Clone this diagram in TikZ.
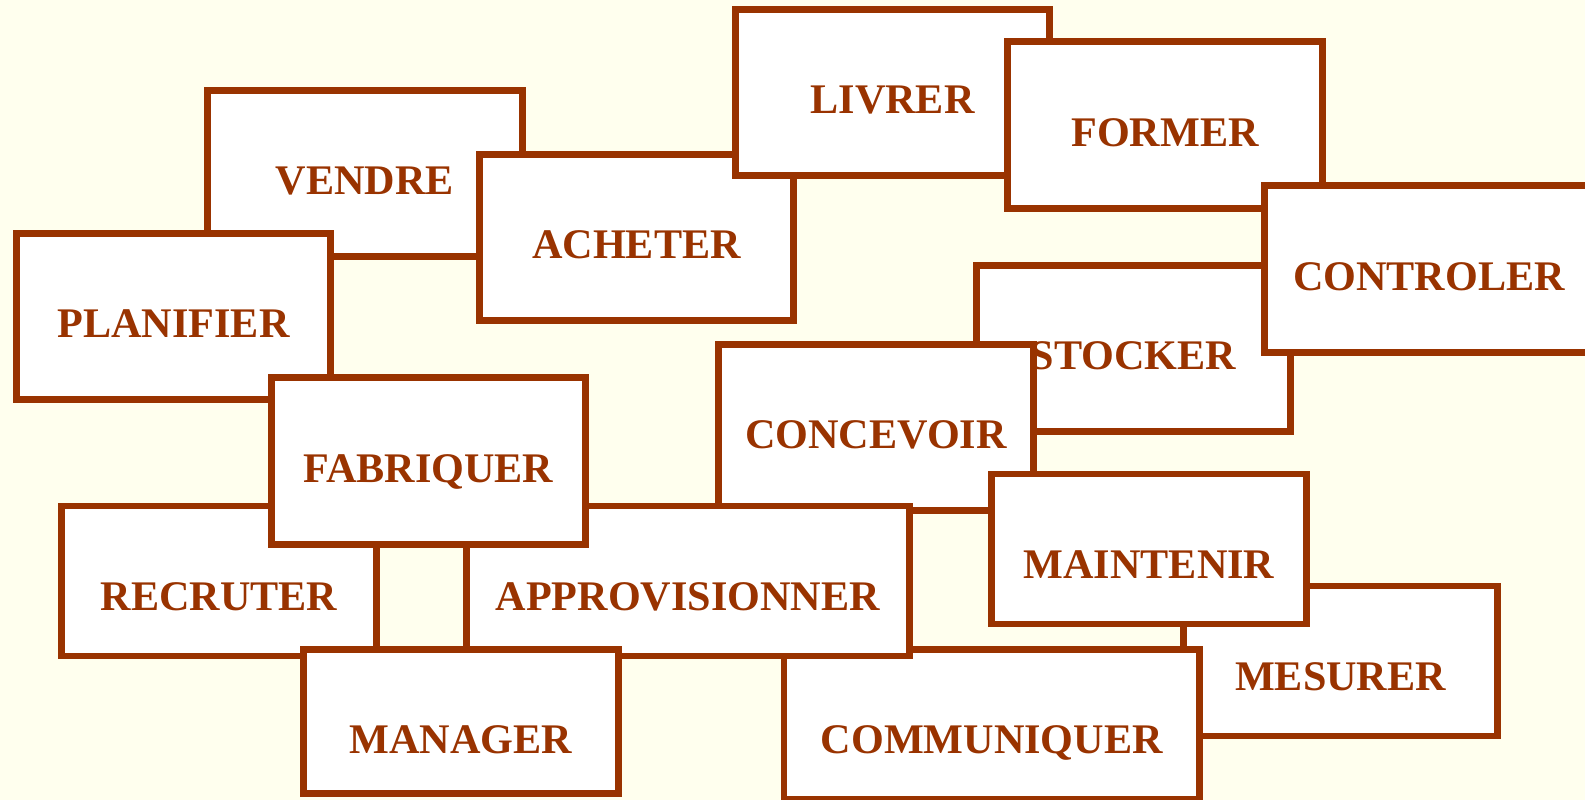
\documentclass[tikz,border=0pt]{standalone}
\usepackage{fontspec}
\setmainfont{Liberation Serif}
\usepackage{tikz}

\definecolor{brick}{HTML}{993300}
\definecolor{paper}{HTML}{FFFFEE}
\tikzset{
  act/.style={draw=brick,line width=3.8pt,fill=white,text=brick,inner sep=0pt,
    font=\bfseries\fontsize{24pt}{24pt}\selectfont,
    minimum width=6.29cm,minimum height=3.33cm,text height=0.86cm,text depth=0pt},
  low/.style={minimum height=3.0cm,text height=1.18cm}
}

\begin{document}
\begin{tikzpicture}[x=0.02cm,y=-0.02cm]
	\useasboundingbox (0,0) rectangle (1585,800);
	\clip (0,0) rectangle (1585,800);
	\fill[paper] (0,0) rectangle (1585,800);
	% top half
	\node[act] (vendre) at (365,173.5) {VENDRE};
	\node[act] (planifier) at (173.5,316.5) {PLANIFIER};
	\node[act] (acheter) at (636.5,237.5) {ACHETER};
	\node[act] (livrer) at (892.5,92.5) {LIVRER};
	\node[act] (former) at (1165,125) {FORMER};
	\node[act] (stocker) at (1133.5,348.5) {STOCKER};
	\node[act,minimum width=6.59cm] (controler) at (1429,269) {CONTROLER};
	\node[act] (concevoir) at (876,427.5) {CONCEVOIR};
	% bottom half
	\node[act,low] (mesurer) at (1340.5,661) {MESURER};
	\node[act,low] (maintenir) at (1149,549) {MAINTENIR};
	\node[act,low,minimum width=8.31cm] (communiquer) at (991.8,724.5) {COMMUNIQUER};
	\node[act,low] (recruter) at (219,581) {RECRUTER};
	\node[act,low,minimum width=8.86cm] (approvisionner) at (687.75,581) {APPROVISIONNER};
	\node[act] (fabriquer) at (428.5,461) {FABRIQUER};
	\node[act,low,minimum height=2.89cm,text height=1.3cm] (manager) at (461,721.5) {MANAGER};
\end{tikzpicture}
\end{document}
